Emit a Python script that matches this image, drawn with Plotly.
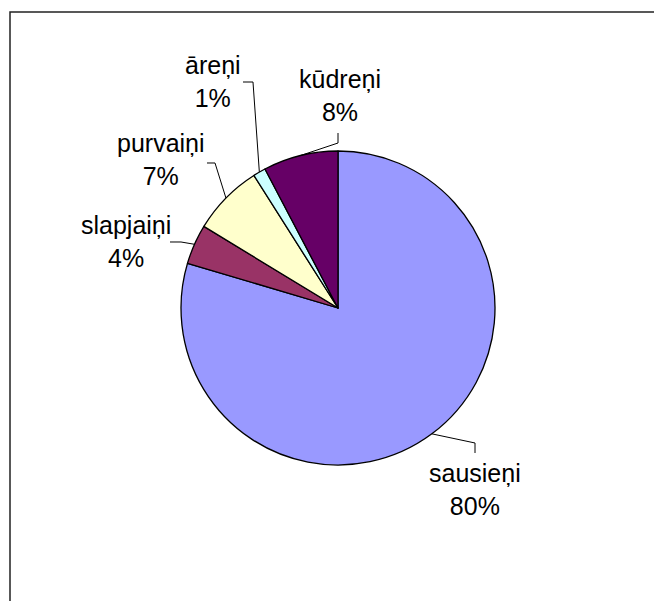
import math
import plotly.graph_objects as go

# ---- data ----
categories = ["sausieņi", "slapjaiņi", "purvaiņi", "āreņi", "kūdreņi"]
values = [79.6, 4.1, 7.3, 1.3, 7.7]
colors = ["#9999FF", "#993366", "#FFFFCC", "#CCFFFF", "#660066"]

# ---- layout constants (pixels) ----
W, H = 654, 601
CX, CY, R = 338, 308, 157
FONT = dict(family="Liberation Sans, Arial, sans-serif", size=25, color="black")
# label centre + leader elbow/end points per category (layout only)
label_pos = {
    "sausieņi": (475, 489),
    "slapjaiņi": (126, 241),
    "purvaiņi": (161, 159),
    "āreņi": (213, 81),
    "kūdreņi": (340, 96),
}
leader_pts = {
    "sausieņi": [(475, 443), (475, 453)],
    "slapjaiņi": [(181, 242), (170, 242)],
    "purvaiņi": [(215, 163), (207, 163)],
    "āreņi": [(253, 82), (243, 82)],
    "kūdreņi": [(338, 143), (338, 133)],
}


def px(x):
    return x / W


def py(y):
    return 1 - y / H


fig = go.Figure(
    go.Pie(
        labels=categories,
        values=values,
        sort=False,
        direction="clockwise",
        rotation=0,
        marker=dict(colors=colors, line=dict(color="black", width=1.3)),
        textinfo="none",
        hoverinfo="label+percent",
        domain=dict(x=[px(CX - R), px(CX + R)], y=[py(CY + R), py(CY - R)]),
        showlegend=False,
    )
)

total = sum(values)
annotations = []
shapes = []
cum = 0.0
for cat, v in zip(categories, values):
    mid = (cum + v / 2) / total * 2 * math.pi
    cum += v
    ex = CX + R * math.sin(mid)
    ey = CY - R * math.cos(mid)
    pts = [(ex, ey)] + leader_pts[cat]
    path = "M " + " L ".join(f"{px(a):.5f},{py(b):.5f}" for a, b in pts)
    shapes.append(dict(type="path", path=path, xref="paper", yref="paper",
                       line=dict(color="black", width=1)))
    lx, ly = label_pos[cat]
    pct = round(v / total * 100)
    annotations.append(dict(
        x=px(lx), y=py(ly), xref="paper", yref="paper",
        text=f"{cat}<br>{pct}%", showarrow=False,
        xanchor="center", yanchor="middle", align="center", font=FONT,
    ))

# chart frame
shapes.append(dict(type="rect", xref="paper", yref="paper",
                   x0=px(10), y0=py(H + 20), x1=px(W + 20), y1=py(12),
                   line=dict(color="#222222", width=1.5)))

fig.update_layout(
    width=W, height=H,
    margin=dict(l=0, r=0, t=0, b=0),
    paper_bgcolor="white",
    plot_bgcolor="white",
    annotations=annotations,
    shapes=shapes,
)

fig.write_html("out.html")
